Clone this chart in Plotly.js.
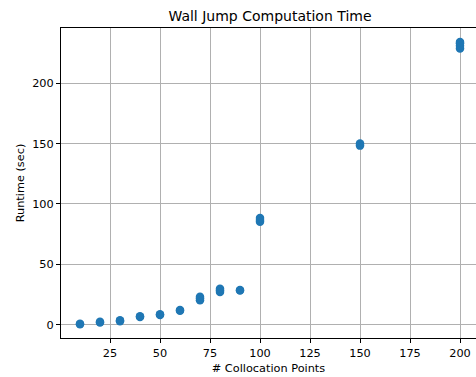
<!DOCTYPE html>
<html>
<head>
<meta charset="utf-8">
<script src="https://cdn.plot.ly/plotly-3.0.1.min.js"></script>
<style>html,body{margin:0;padding:0;background:#fff}#chart{width:476px;height:377px}</style>
</head>
<body>
<div id="chart"></div>
<script>
// Number of collocation points (repeated trials)
const collocationPoints = [10,10,20,20,30,30,40,40,50,50,60,60,70,70,70,80,80,80,90,90,100,100,100,150,150,200,200,200,200];
// Runtime in seconds
const runtimeSec = [0.4,0.8,1.8,2.5,2.8,3.6,6.3,7.0,8.0,8.6,11.5,12.2,20.3,22.0,23.2,27.0,28.5,29.8,28.3,28.8,85.2,86.8,88.3,148.3,150.0,228.8,231.0,233.0,234.2];
const xTicks = [25,50,75,100,125,150,175,200];
const yTicks = [0,50,100,150,200];

const tickSize = 11.3;
Plotly.newPlot('chart', [{
  type: 'scatter', mode: 'markers',
  x: collocationPoints, y: runtimeSec,
  marker: {color: '#1f77b4', size: 8.5, line: {width: 0}},
  cliponaxis: false
}], {
  width: 476, height: 377,
  margin: {l: 61, r: 0, t: 28, b: 39},
  paper_bgcolor: '#fff', plot_bgcolor: '#fff',
  showlegend: false,
  font: {family: 'DejaVu Sans', size: tickSize, color: '#000'},
  title: {text: 'Wall Jump Computation Time', font: {family: 'DejaVu Sans', size: 14, color: '#000'},
          x: 270/476, xref: 'container', xanchor: 'center', y: 1 - 16/377, yref: 'container', yanchor: 'middle'},
  xaxis: {
    range: [0.5, 208], tickvals: xTicks, ticktext: xTicks.map(String),
    showgrid: true, gridcolor: '#b0b0b0', gridwidth: 1,
    showline: true, linecolor: '#000', linewidth: 1, mirror: true,
    ticks: 'outside', ticklen: 4, tickcolor: '#000', tickwidth: 1,
    zeroline: false, tickfont: {family: 'DejaVu Sans', size: tickSize, color: '#000'},
    title: {text: '# Collocation Points', font: {family: 'DejaVu Sans', size: tickSize, color: '#000'}, standoff: 5}
  },
  yaxis: {
    range: [-11, 245.7], tickvals: yTicks, ticktext: yTicks.map(String),
    showgrid: true, gridcolor: '#b0b0b0', gridwidth: 1,
    showline: true, linecolor: '#000', linewidth: 1, mirror: false,
    ticks: 'outside', ticklen: 4, tickcolor: '#000', tickwidth: 1,
    zeroline: false, tickfont: {family: 'DejaVu Sans', size: tickSize, color: '#000'},
    title: {text: 'Runtime (sec)', font: {family: 'DejaVu Sans', size: tickSize, color: '#000'}, standoff: 5}
  }
}, {staticPlot: true, displayModeBar: false});
</script>
</body>
</html>
